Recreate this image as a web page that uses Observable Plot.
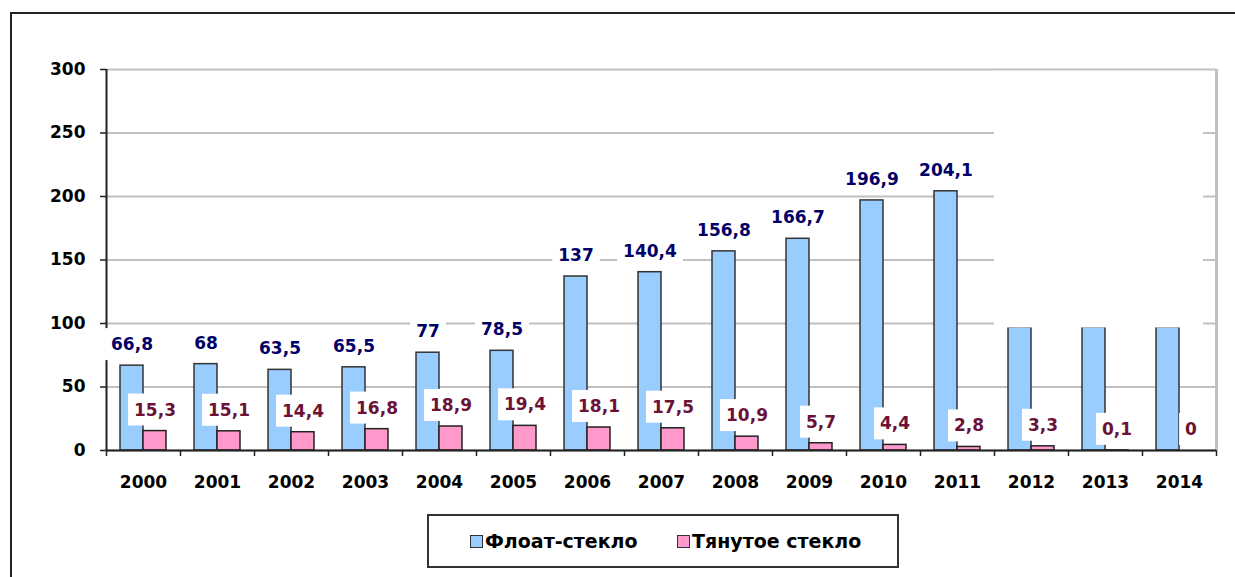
<!DOCTYPE html>
<html>
<head>
<meta charset="utf-8">
<script src="https://cdn.jsdelivr.net/npm/d3@7"></script>
<script src="https://cdn.jsdelivr.net/npm/@observablehq/plot@0.6"></script>
<style>
  body { margin: 0; background: #fff; width: 1235px; height: 577px; overflow: hidden; position: relative; font-family: "DejaVu Sans", sans-serif; }
  #frame { position: absolute; left: 10px; top: 12px; width: 1300px; height: 700px; border-top: 2px solid #222; border-left: 2px solid #222; }
  #chart { position: absolute; left: 0; top: 0; }
  #legend { position: absolute; left: 427px; top: 514px; width: 468px; height: 50px; border: 2px solid #333; box-sizing: content-box;
            display: flex; align-items: center; font-weight: bold; font-size: 19px; color: #000; }
  .item { display: flex; align-items: center; position: absolute; top: 0; height: 50px; }
  .sw { width: 11px; height: 11px; border: 1px solid #333; margin-right: 2px; }
</style>
</head>
<body>
<div id="frame"></div>
<div id="chart"></div>
<div id="legend">
  <div class="item" style="left:41px"><div class="sw" style="background:#99CCFF"></div><span>Флоат-стекло</span></div>
  <div class="item" style="left:248px"><div class="sw" style="background:#FF99CC"></div><span>Тянутое стекло</span></div>
</div>
<script>
const years = ["2000","2001","2002","2003","2004","2005","2006","2007","2008","2009","2010","2011","2012","2013","2014"];
const floatValues = [66.8, 68, 63.5, 65.5, 77, 78.5, 137, 140.4, 156.8, 166.7, 196.9, 204.1, 97, 97, 97];
const floatLabels = ["66,8","68","63,5","65,5","77","78,5","137","140,4","156,8","166,7","196,9","204,1","","",""];
const drawnValues = [15.3, 15.1, 14.4, 16.8, 18.9, 19.4, 18.1, 17.5, 10.9, 5.7, 4.4, 2.8, 3.3, 0.1, 0];
const drawnLabels = ["15,3","15,1","14,4","16,8","18,9","19,4","18,1","17,5","10,9","5,7","4,4","2,8","3,3","0,1","0"];
const yTicks = [0, 50, 100, 150, 200, 250, 300];
const coveredYears = ["2012","2013"];
const coveredLastYear = ["2014"];
const coverRange = [96.5, 298.5];

const floatData = years.map((y, i) => ({year: y, value: floatValues[i], label: floatLabels[i]}));
const drawnData = years.map((y, i) => ({year: y, value: drawnValues[i], label: drawnLabels[i]}));

const W = 1235, ML = 106, MR = 19;
const half = (W - ML - MR) / years.length / 2;
const blue = "#99CCFF", pink = "#FF99CC";
const floatLabelColor = "#000066", drawnLabelColor = "#6b1236";

const chart = Plot.plot({
  width: W, height: 500,
  marginLeft: ML, marginRight: MR, marginTop: 69, marginBottom: 50,
  style: {fontFamily: "DejaVu Sans, sans-serif", fontSize: "17px", fontWeight: "bold", background: "transparent", overflow: "visible"},
  x: {type: "band", domain: years, padding: 0, label: null},
  y: {domain: [0, 300], label: null},
  marks: [
    Plot.gridY(yTicks, {stroke: "#c0c0c0", strokeOpacity: 1, strokeWidth: 2}),
    Plot.ruleX([years[years.length - 1]], {x: d => d, dx: half, stroke: "#c0c0c0", strokeWidth: 3}),
    Plot.barY(floatData, {x: "year", y: "value", fill: blue, stroke: "#333", strokeWidth: 1.5, insetLeft: 14, insetRight: 37}),
    Plot.barY(drawnData, {x: "year", y: "value", fill: pink, stroke: "#222", strokeWidth: 1.5, insetLeft: 37, insetRight: 14}),
    Plot.barY(coveredYears, {x: d => d, y1: coverRange[0], y2: coverRange[1], fill: "white"}),
    Plot.barY(coveredLastYear, {x: d => d, y1: coverRange[0], y2: coverRange[1], fill: "white", insetRight: 13}),
    Plot.ruleY([0], {stroke: "#222", strokeWidth: 2}),
    Plot.ruleX([years[0]], {x: d => d, dx: -half, stroke: "#222", strokeWidth: 2}),
    Plot.ruleX(years, {x: d => d, dx: -half, y1: 0, y2: 0, insetBottom: -6, stroke: "#222", strokeWidth: 1.5}),
    Plot.ruleX([years[years.length - 1]], {x: d => d, dx: half, y1: 0, y2: 0, insetBottom: -6, stroke: "#222", strokeWidth: 1.5}),
    Plot.axisY({ticks: yTicks, tickSize: 6, tickPadding: 15, stroke: "#222", strokeWidth: 1.5, fill: "#000", label: null}),
    Plot.axisX({tickSize: 0, tickPadding: 25, fill: "#000", label: null}),
    Plot.text(floatData.filter(d => d.label !== ""), {x: "year", y: "value", text: "label", dx: -11.5, dy: -21, fill: floatLabelColor, fontSize: 17, fontWeight: "bold"}),
    Plot.text(drawnData, {x: "year", y: "value", text: "label", dx: 11.5, dy: -21, fill: drawnLabelColor, fontSize: 17, fontWeight: "bold"})
  ]
});
document.getElementById("chart").append(chart);

// white label boxes behind each data label
const ns = "http://www.w3.org/2000/svg";
const labelTexts = Array.from(chart.querySelectorAll("text")).filter(t => {
  const g = t.closest("g");
  const f = (g && g.getAttribute("fill")) || t.getAttribute("fill");
  return f === floatLabelColor || f === drawnLabelColor;
});
labelTexts.forEach(t => {
  const b = t.getBBox();
  if (!b.width) return;
  const r = document.createElementNS(ns, "rect");
  r.setAttribute("x", b.x - 6);
  r.setAttribute("y", b.y - 6);
  r.setAttribute("width", b.width + 12);
  r.setAttribute("height", b.height + 12);
  r.setAttribute("fill", "white");
  r.setAttribute("stroke", "none");
  const tr = t.getAttribute("transform");
  if (tr) r.setAttribute("transform", tr);
  t.parentNode.insertBefore(r, t);
});
</script>
</body>
</html>
